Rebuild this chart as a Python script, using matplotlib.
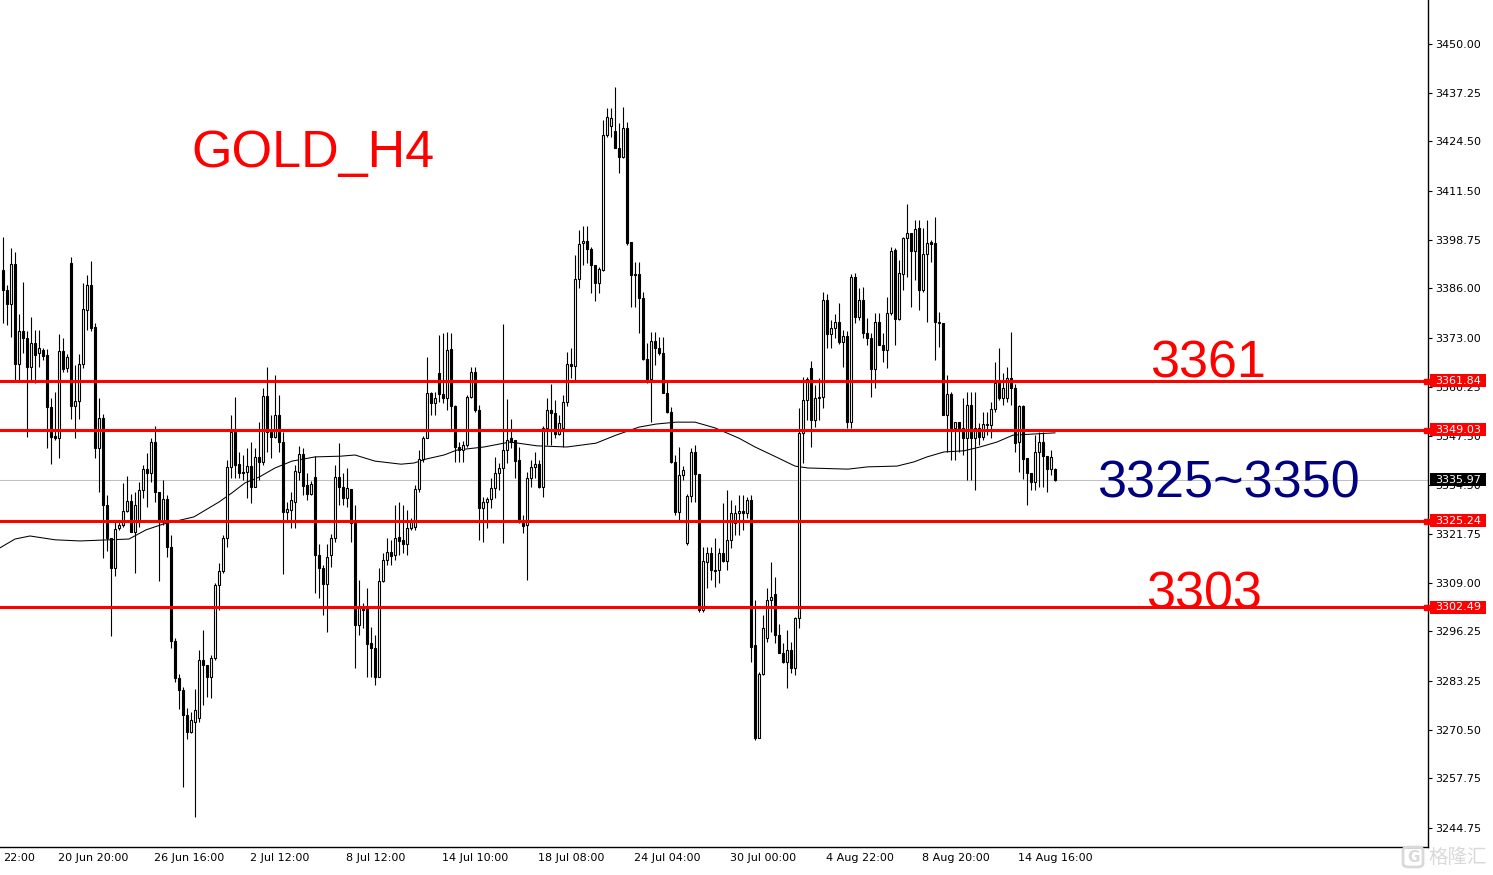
import numpy as np
import matplotlib
matplotlib.use('Agg')
import matplotlib.pyplot as plt
from matplotlib.transforms import blended_transform_factory
from matplotlib.patches import Rectangle, FancyBboxPatch

# GOLD H4 candles (oldest -> newest)
opens = [
    3390.8, 3385.6, 3381.9, 3392.4, 3366.2, 3374.9, 3373.0, 3365.4, 3371.7, 3369.1,
    3369.9, 3368.6, 3355.0, 3347.4, 3346.8, 3369.6, 3365.2, 3392.7, 3355.3, 3356.5,
    3366.2, 3380.4, 3386.9, 3375.9, 3344.2, 3352.1, 3329.3, 3320.7, 3312.8, 3323.3,
    3324.1, 3327.7, 3330.4, 3322.2, 3324.9, 3333.2, 3338.7, 3337.7, 3345.8, 3332.7,
    3324.9, 3330.9, 3318.3, 3293.7, 3284.0, 3280.9, 3274.3, 3269.9, 3272.5, 3273.5,
    3288.7, 3287.4, 3284.3, 3289.3, 3308.4, 3312.0, 3320.7, 3339.3, 3348.4, 3340.0,
    3338.0, 3338.0, 3339.5, 3334.0, 3341.9, 3340.6, 3357.8, 3348.4, 3347.1, 3352.9,
    3345.8, 3327.5, 3328.0, 3330.1, 3337.9, 3342.7, 3334.5, 3332.2, 3336.6, 3316.2,
    3312.8, 3308.6, 3316.2, 3320.7, 3336.6, 3334.0, 3331.1, 3333.5, 3324.6, 3297.9,
    3302.3, 3302.3, 3293.2, 3291.9, 3284.3, 3309.4, 3314.9, 3317.0, 3316.2, 3320.9,
    3320.2, 3319.1, 3323.3, 3323.5, 3333.5, 3341.4, 3346.8, 3358.6, 3356.0, 3363.9,
    3358.4, 3357.3, 3370.2, 3355.3, 3344.5, 3343.7, 3345.0, 3357.6, 3364.1, 3354.2,
    3328.5, 3330.1, 3330.9, 3333.8, 3337.7, 3339.0, 3343.7, 3346.8, 3346.3, 3341.1,
    3325.4, 3324.1, 3336.4, 3339.3, 3340.0, 3334.0, 3349.5, 3354.2, 3353.4, 3347.9,
    3349.5, 3356.3, 3366.2, 3365.7, 3388.5, 3397.9, 3398.4, 3396.3, 3392.1, 3387.4,
    3390.8, 3426.2, 3428.5, 3427.2, 3422.8, 3420.4, 3428.0, 3398.2, 3389.8, 3389.8,
    3383.5, 3367.5, 3362.3, 3372.2, 3370.4, 3369.1, 3358.6, 3353.7, 3340.6, 3327.5,
    3337.2, 3319.4, 3331.7, 3343.2, 3337.4, 3301.8, 3314.4, 3316.7, 3312.3, 3312.3,
    3316.7, 3314.6, 3320.2, 3324.6, 3327.2, 3327.7, 3327.2, 3330.6, 3292.7, 3268.3,
    3285.1, 3294.5, 3304.4, 3306.0, 3295.3, 3290.6, 3288.2, 3291.4, 3286.6, 3299.7,
    3348.2, 3356.8, 3365.2, 3351.6, 3357.3, 3357.6, 3383.0, 3374.1, 3375.6, 3377.2,
    3372.0, 3373.6, 3351.0, 3389.0, 3378.5, 3383.0, 3374.3, 3373.0, 3364.9, 3377.2,
    3371.2, 3369.9, 3379.6, 3396.1, 3378.0, 3389.8, 3399.2, 3400.5, 3395.8, 3401.8,
    3385.6, 3395.0, 3398.2, 3397.9, 3377.2, 3377.0, 3352.9, 3358.4, 3349.5, 3351.0,
    3349.5, 3346.8, 3355.5, 3346.8, 3349.5, 3347.1, 3350.3, 3350.3, 3354.4, 3361.3,
    3357.3, 3357.3, 3362.6, 3359.9, 3345.8, 3355.2, 3341.6, 3337.7, 3335.3, 3343.2,
    3345.8, 3342.1, 3338.7, 3338.7,
]
highs = [
    3399.5, 3386.9, 3396.6, 3395.6, 3379.3, 3387.7, 3374.9, 3378.5, 3375.1, 3375.1,
    3370.4, 3370.2, 3357.3, 3358.9, 3374.1, 3373.0, 3368.8, 3394.2, 3366.0, 3368.8,
    3387.4, 3389.5, 3393.2, 3377.0, 3357.3, 3353.1, 3331.9, 3320.7, 3324.9, 3324.9,
    3335.1, 3336.9, 3332.2, 3332.7, 3335.3, 3339.8, 3342.9, 3346.8, 3350.0, 3332.7,
    3335.9, 3331.9, 3321.5, 3294.5, 3285.1, 3281.7, 3276.2, 3275.1, 3281.1, 3291.4,
    3296.6, 3287.4, 3290.0, 3308.9, 3314.1, 3321.5, 3341.1, 3352.9, 3357.6, 3343.2,
    3342.4, 3344.2, 3345.8, 3344.2, 3351.0, 3359.9, 3365.4, 3352.9, 3363.3, 3358.1,
    3348.4, 3330.1, 3332.7, 3339.8, 3344.7, 3344.2, 3337.7, 3335.6, 3342.1, 3319.0,
    3313.6, 3319.0, 3321.7, 3339.8, 3345.5, 3337.7, 3339.0, 3333.5, 3329.3, 3309.7,
    3303.7, 3307.6, 3297.4, 3295.3, 3312.8, 3316.8, 3320.7, 3320.2, 3329.3, 3330.1,
    3329.3, 3328.0, 3325.9, 3334.5, 3343.7, 3347.4, 3368.1, 3358.9, 3358.9, 3373.8,
    3374.3, 3374.6, 3374.3, 3355.5, 3345.8, 3346.1, 3358.1, 3365.4, 3365.4, 3355.5,
    3331.4, 3331.4, 3336.4, 3341.9, 3340.3, 3376.7, 3357.1, 3351.8, 3346.3, 3344.5,
    3326.7, 3337.9, 3341.1, 3343.2, 3341.1, 3350.0, 3357.3, 3361.0, 3356.8, 3352.9,
    3358.1, 3369.4, 3370.4, 3394.8, 3401.3, 3402.4, 3402.4, 3396.9, 3392.1, 3391.6,
    3430.1, 3433.2, 3433.2, 3438.7, 3429.3, 3433.5, 3429.6, 3398.2, 3392.9, 3392.9,
    3385.1, 3371.7, 3374.6, 3374.6, 3373.3, 3373.3, 3362.0, 3355.0, 3342.4, 3344.5,
    3339.5, 3332.2, 3344.2, 3345.0, 3337.4, 3318.3, 3318.3, 3318.3, 3320.7, 3318.0,
    3329.8, 3333.2, 3330.6, 3329.3, 3331.9, 3331.9, 3331.4, 3331.9, 3304.4, 3285.6,
    3300.5, 3307.6, 3314.4, 3310.5, 3298.2, 3293.2, 3296.6, 3293.4, 3300.0, 3354.7,
    3362.8, 3362.8, 3367.0, 3360.7, 3362.6, 3385.1, 3384.5, 3377.7, 3379.3, 3382.2,
    3375.1, 3374.9, 3389.8, 3390.0, 3386.1, 3386.4, 3378.3, 3374.3, 3379.6, 3379.6,
    3374.3, 3383.8, 3396.9, 3396.6, 3393.5, 3399.5, 3408.1, 3400.5, 3403.9, 3403.9,
    3401.8, 3403.9, 3398.7, 3404.7, 3379.8, 3377.0, 3363.3, 3358.9, 3351.0, 3351.0,
    3357.3, 3358.9, 3358.9, 3358.9, 3350.8, 3353.7, 3353.7, 3356.3, 3366.7, 3370.4,
    3363.9, 3365.4, 3374.6, 3361.0, 3355.5, 3355.5, 3341.6, 3337.7, 3347.6, 3348.4,
    3348.4, 3342.1, 3343.7, 3339.0,
]
lows = [
    3377.0, 3376.4, 3373.3, 3362.0, 3362.0, 3369.1, 3347.1, 3362.0, 3361.3, 3365.4,
    3367.3, 3344.2, 3340.0, 3346.3, 3341.6, 3364.1, 3364.1, 3351.8, 3346.8, 3351.8,
    3365.2, 3375.1, 3374.9, 3341.6, 3332.7, 3315.4, 3317.3, 3295.0, 3310.7, 3322.8,
    3323.5, 3327.5, 3322.2, 3311.5, 3323.5, 3331.1, 3328.8, 3335.3, 3330.1, 3309.4,
    3324.1, 3315.7, 3291.9, 3283.0, 3275.9, 3255.5, 3268.1, 3269.6, 3247.6, 3272.5,
    3277.0, 3279.0, 3278.8, 3288.7, 3301.8, 3311.5, 3318.3, 3336.4, 3336.4, 3336.4,
    3335.9, 3331.1, 3329.8, 3334.5, 3335.9, 3339.8, 3343.2, 3341.6, 3346.8, 3343.2,
    3311.2, 3325.4, 3323.3, 3323.3, 3335.9, 3331.9, 3330.6, 3331.9, 3306.3, 3305.0,
    3300.5, 3296.1, 3313.1, 3319.6, 3329.3, 3329.3, 3328.8, 3319.6, 3286.6, 3295.3,
    3297.1, 3284.3, 3284.3, 3282.2, 3284.3, 3309.1, 3313.6, 3313.6, 3314.9, 3316.2,
    3316.7, 3316.2, 3322.8, 3322.8, 3332.7, 3340.6, 3346.8, 3352.9, 3352.9, 3356.3,
    3356.0, 3354.2, 3348.9, 3340.6, 3340.6, 3340.6, 3344.5, 3357.3, 3353.7, 3320.2,
    3319.6, 3323.3, 3328.5, 3331.1, 3333.2, 3319.4, 3340.3, 3344.2, 3336.4, 3324.6,
    3322.0, 3309.7, 3334.0, 3336.4, 3333.8, 3331.4, 3345.0, 3345.0, 3346.8, 3347.6,
    3344.5, 3355.2, 3362.6, 3362.0, 3386.1, 3392.1, 3392.7, 3384.8, 3382.7, 3384.8,
    3390.6, 3425.6, 3425.6, 3422.8, 3416.2, 3420.2, 3397.4, 3381.1, 3381.1, 3374.3,
    3367.3, 3361.3, 3351.0, 3366.0, 3368.6, 3358.6, 3353.4, 3340.3, 3326.7, 3324.9,
    3335.9, 3318.8, 3330.1, 3330.1, 3301.3, 3301.3, 3307.6, 3309.7, 3307.8, 3308.9,
    3314.4, 3312.3, 3318.0, 3321.5, 3321.5, 3322.8, 3325.9, 3288.2, 3267.8, 3268.3,
    3284.8, 3293.4, 3296.1, 3293.2, 3290.6, 3287.9, 3281.4, 3285.3, 3284.8, 3297.1,
    3340.3, 3351.6, 3344.5, 3349.7, 3351.6, 3354.7, 3370.4, 3370.4, 3373.0, 3371.5,
    3365.4, 3349.5, 3349.5, 3377.0, 3377.7, 3373.0, 3371.2, 3357.6, 3359.9, 3371.2,
    3366.7, 3365.2, 3379.1, 3371.2, 3377.7, 3385.6, 3389.0, 3381.1, 3388.2, 3380.4,
    3385.1, 3377.2, 3392.9, 3367.3, 3370.7, 3352.9, 3343.2, 3341.1, 3341.1, 3343.2,
    3342.4, 3335.9, 3335.9, 3333.2, 3345.0, 3346.3, 3347.6, 3346.8, 3353.7, 3356.8,
    3355.5, 3356.3, 3355.5, 3343.2, 3338.0, 3336.1, 3329.3, 3333.2, 3333.2, 3334.0,
    3334.0, 3332.7, 3337.2, 3335.6,
]
closes = [
    3385.6, 3381.9, 3392.4, 3366.2, 3374.9, 3373.0, 3365.4, 3371.7, 3368.6, 3370.4,
    3368.3, 3355.0, 3347.1, 3346.8, 3369.6, 3364.9, 3368.0, 3355.3, 3356.5, 3366.2,
    3380.6, 3386.9, 3375.6, 3344.2, 3352.1, 3329.3, 3320.7, 3312.8, 3323.0, 3324.1,
    3327.7, 3330.4, 3322.2, 3329.3, 3333.2, 3338.7, 3337.7, 3345.8, 3332.7, 3324.9,
    3330.9, 3318.3, 3293.7, 3284.0, 3280.9, 3274.3, 3269.9, 3273.0, 3275.6, 3288.7,
    3287.4, 3284.3, 3289.3, 3308.4, 3312.0, 3320.7, 3339.3, 3348.4, 3339.8, 3337.7,
    3337.7, 3339.5, 3334.0, 3341.9, 3340.6, 3357.8, 3348.4, 3347.1, 3352.9, 3345.8,
    3327.5, 3328.3, 3330.6, 3338.2, 3342.7, 3334.3, 3332.2, 3334.8, 3316.2, 3312.8,
    3308.6, 3315.7, 3320.7, 3336.6, 3334.0, 3331.1, 3333.8, 3324.6, 3297.9, 3302.3,
    3301.8, 3292.9, 3291.9, 3284.3, 3309.4, 3314.9, 3317.0, 3316.0, 3320.7, 3319.9,
    3319.1, 3323.3, 3324.9, 3333.5, 3341.4, 3346.8, 3358.6, 3356.0, 3357.3, 3358.4,
    3357.3, 3369.9, 3355.3, 3344.5, 3343.7, 3345.0, 3357.6, 3364.1, 3354.2, 3328.5,
    3330.1, 3330.9, 3333.8, 3337.7, 3339.0, 3343.7, 3346.3, 3345.8, 3340.8, 3325.4,
    3323.8, 3336.4, 3339.3, 3340.0, 3334.0, 3349.5, 3354.2, 3353.4, 3347.9, 3350.8,
    3356.3, 3366.2, 3365.7, 3388.5, 3397.6, 3398.4, 3396.3, 3392.1, 3387.4, 3391.1,
    3426.2, 3430.9, 3430.6, 3422.8, 3420.4, 3428.0, 3397.9, 3389.5, 3389.5, 3383.5,
    3367.5, 3362.3, 3372.2, 3370.4, 3369.1, 3358.6, 3353.7, 3340.6, 3327.5, 3337.2,
    3338.5, 3331.7, 3343.2, 3337.4, 3301.8, 3314.6, 3316.7, 3312.3, 3312.0, 3316.7,
    3314.6, 3320.2, 3327.2, 3327.2, 3327.7, 3327.2, 3330.6, 3292.1, 3268.3, 3285.1,
    3297.1, 3304.4, 3305.2, 3295.3, 3290.6, 3288.2, 3291.4, 3286.6, 3299.7, 3348.2,
    3356.8, 3362.3, 3351.6, 3357.3, 3357.6, 3383.0, 3374.1, 3375.6, 3377.2, 3372.0,
    3373.6, 3351.0, 3389.0, 3378.5, 3383.0, 3374.3, 3373.0, 3364.9, 3377.2, 3371.2,
    3369.9, 3379.6, 3395.8, 3378.0, 3390.0, 3399.2, 3400.5, 3395.8, 3401.6, 3385.6,
    3395.0, 3397.9, 3397.6, 3377.2, 3377.0, 3352.9, 3358.4, 3349.5, 3351.0, 3348.9,
    3346.8, 3355.5, 3346.8, 3349.5, 3347.1, 3350.5, 3350.5, 3354.4, 3361.3, 3357.3,
    3359.9, 3362.6, 3359.9, 3345.5, 3355.2, 3341.4, 3337.7, 3335.3, 3343.2, 3345.8,
    3342.1, 3338.7, 3341.9, 3335.97,
]

# moving average line (candle index, price)
ma_idx = [-0.75, 3, 6.75, 13, 19.25, 31.5, 35.75, 40, 47.75, 54, 57.25, 60.5, 64, 68,
          72.25, 78, 84.5, 88, 93, 99.5, 102.75, 106, 110.25, 113.5, 120.25, 126.75,
          133.5, 141, 148.25, 153.25, 159, 163.25, 168.25, 173, 178, 184, 188, 192.25,
          198, 201.25, 211.25, 216.25, 223.5, 227.75, 231, 235.25, 240.25, 244.25,
          248.5, 252.5, 263]
ma_vals = [3318.1, 3320.4, 3321.2, 3320.2, 3319.9, 3320.4, 3322.8, 3324.3, 3326.2,
           3330.1, 3332.5, 3335.1, 3336.6, 3339.0, 3340.8, 3341.9, 3342.1, 3342.4,
           3340.8, 3340.0, 3340.3, 3341.4, 3342.4, 3343.7, 3344.5, 3345.8, 3344.8,
           3344.5, 3345.5, 3347.6, 3349.7, 3350.5, 3351.0, 3351.0, 3349.5, 3346.8,
           3344.5, 3342.4, 3339.5, 3339.0, 3338.7, 3339.3, 3339.5, 3340.6, 3341.9,
           3343.2, 3343.5, 3344.5, 3345.8, 3347.6, 3348.2]

levels = [3361.84, 3349.03, 3325.24, 3302.49]
bid = 3335.97

price_ticks = [3450.00, 3437.25, 3424.50, 3411.50, 3398.75, 3386.00, 3373.00, 3360.25,
               3347.50, 3334.50, 3321.75, 3309.00, 3296.25, 3283.25, 3270.50, 3257.75,
               3244.75]
date_labels = ['22:00', '20 Jun 20:00', '26 Jun 16:00', '2 Jul 12:00', '8 Jul 12:00',
               '14 Jul 10:00', '18 Jul 08:00', '24 Jul 04:00', '30 Jul 00:00',
               '4 Aug 22:00', '8 Aug 20:00', '14 Aug 16:00']

W, H = 1493, 875
PX_PER_PRICE = 3.8197
Y_TOP = 3461.52


def draw_candles(ax):
    o = np.array(opens)
    c = np.array(closes)
    h = np.maximum(np.array(highs), np.maximum(o, c))
    l = np.minimum(np.array(lows), np.minimum(o, c))
    x = np.arange(len(o))
    ax.vlines(x, l, h, color='black', linewidth=0.8, zorder=3)
    face = ['white' if cc >= oo else 'black' for oo, cc in zip(o, c)]
    ax.bar(x, np.abs(c - o), width=0.55, bottom=np.minimum(o, c), color=face,
           edgecolor='black', linewidth=0.8, zorder=4)


def price_tag(fig, ax, price, bg):
    trans = blended_transform_factory(fig.transFigure, ax.transData)
    hh = 13 / PX_PER_PRICE
    fig.add_artist(Rectangle((1430 / W, price - hh / 2), 56 / W, hh, transform=trans,
                             facecolor=bg, edgecolor='none', zorder=10))
    fig.text(1458 / W, price, f'{price:.2f}', transform=trans, ha='center', va='center',
             color='white', fontsize=8, zorder=11)


def main():
    assert len(opens) == len(highs) == len(lows) == len(closes) == 264
    assert len(ma_idx) == len(ma_vals)

    fig = plt.figure(figsize=(W / 100, H / 100), dpi=100)
    ax = fig.add_axes([0, 28 / H, 1428 / W, 1 - 28 / H])
    ax.set_xlim(-0.75, 356.25)
    ax.set_ylim(Y_TOP - 847 / PX_PER_PRICE, Y_TOP)

    for side in ['left', 'top']:
        ax.spines[side].set_visible(False)
    for side in ['right', 'bottom']:
        ax.spines[side].set_linewidth(1.0)

    ax.yaxis.tick_right()
    ax.set_yticks(price_ticks)
    ax.set_yticklabels([f'{p:.2f}' for p in price_ticks])
    ax.tick_params(axis='y', length=3, width=0.8, pad=2, labelsize=8, direction='out')
    ax.set_xticks([])

    # bid line and support/resistance levels
    ax.axhline(bid, color='#c0c0c0', linewidth=0.75, zorder=1)
    for lv in levels:
        ax.axhline(lv, color='#ff0000', linewidth=2.2, zorder=5)
    ax.plot([355.75] * len(levels), levels, 's', ms=3.6, color='#ff0000',
            clip_on=False, zorder=6)

    ax.plot(ma_idx, ma_vals, color='black', linewidth=0.75, zorder=2)
    draw_candles(ax)

    for lv in levels:
        price_tag(fig, ax, lv, '#ff0000')
    price_tag(fig, ax, bid, 'black')

    # time axis labels
    tx = blended_transform_factory(ax.transData, fig.transFigure)
    for i, lab in enumerate(date_labels):
        pos = 0 if i == 0 else 13.75 + 24 * (i - 1)
        ax.text(pos, 17 / H, lab, transform=tx, ha='left', va='center', fontsize=8,
                clip_on=False)

    big = dict(family='Liberation Sans', fontsize=37.5, va='baseline', zorder=8)
    ax.text(47.0, 3417.8, 'GOLD_H4', color='#ff0000', **big)
    ax.text(286.75, 3362.6, '3361', color='#ff0000', **big)
    ax.text(273.5, 3331.4, '3325~3350', color='#000080', **big)
    ax.text(285.75, 3302.3, '3303', color='#ff0000', **big)

    # watermark
    fig.add_artist(FancyBboxPatch((1403 / W, 1 - 867 / H), 20 / W, 20 / H,
                                  boxstyle='round,pad=0,rounding_size=0.004',
                                  transform=fig.transFigure, facecolor='none',
                                  edgecolor='#d9d9d9', linewidth=2.0, zorder=12))
    fig.text(1413 / W, 1 - 857 / H, 'G', fontsize=11, color='#d9d9d9', ha='center',
             va='center', weight='bold', zorder=12)
    fig.text(1428 / W, 1 - 857 / H, '格隆汇', family=['Noto Sans CJK SC', 'DejaVu Sans'],
             fontsize=14, color='#d9d9d9', ha='left', va='center', zorder=12)

    fig.savefig('out.png', dpi=100)


if __name__ == '__main__':
    main()
